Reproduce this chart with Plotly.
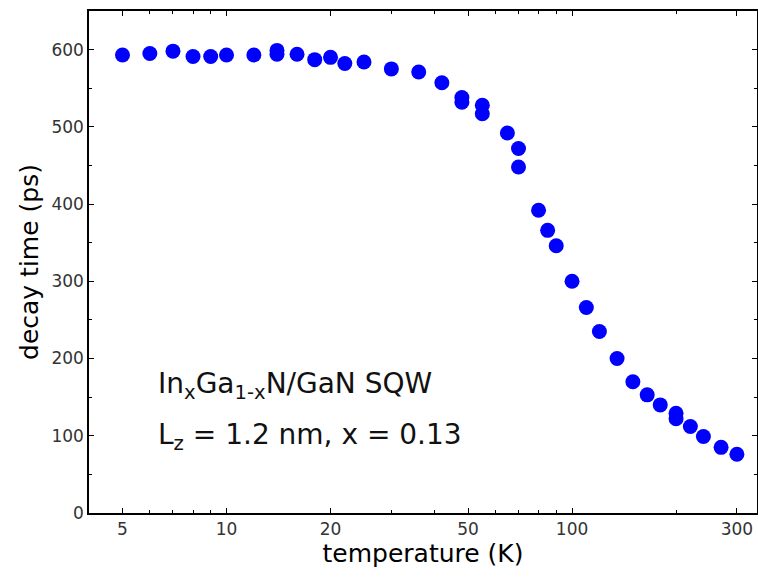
import numpy as np
import plotly.graph_objects as go

temperature_K = [5, 6, 7, 8, 9, 10, 12, 14, 14, 16, 18, 20, 22, 25, 30, 36, 42,
                 48, 48, 55, 55, 65, 70, 70, 80, 85, 90, 100, 110, 120, 135,
                 150, 165, 180, 200, 200, 220, 240, 270, 300]
decay_time_ps = [593, 595, 598, 591, 591, 593, 593, 599, 594, 594, 587, 590, 582,
                 584, 575, 571, 557, 538, 532, 528, 517, 492, 472, 448, 392, 366,
                 346, 300, 266, 235, 200, 170, 153, 140, 129, 122, 112, 99, 85, 76]

x_major_ticks = [5, 10, 20, 50, 100, 300]
x_minor_ticks = [4, 6, 7, 8, 9, 30, 40, 60, 70, 80, 90, 200]
y_major_ticks = [0, 100, 200, 300, 400, 500, 600]

FONT = "DejaVu Sans, Liberation Sans, Arial, sans-serif"

fig = go.Figure()
fig.add_trace(go.Scatter(
    x=temperature_K, y=decay_time_ps, mode="markers",
    marker=dict(color="#0000ff", size=15, line=dict(width=0)),
    showlegend=False, cliponaxis=False,
))

fig.update_layout(
    width=758, height=577,
    margin=dict(l=89, r=1, t=11, b=64),
    paper_bgcolor="white", plot_bgcolor="white",
    font=dict(family=FONT, color="#333333", size=17),
)
fig.update_xaxes(
    type="log", range=[np.log10(4), np.log10(343)], automargin=False,
    tickmode="array", tickvals=x_major_ticks, ticktext=[str(v) for v in x_major_ticks],
    ticks="inside", ticklen=5, tickwidth=1.2, tickcolor="black",
    showline=True, linecolor="black", linewidth=1.5, mirror="allticks",
    showgrid=False, zeroline=False,
    minor=dict(tickmode="array", tickvals=x_minor_ticks, ticks="inside",
               ticklen=3, tickwidth=1, tickcolor="black", showgrid=False),
    title=dict(text="temperature (K)", font=dict(size=25, color="black", family=FONT), standoff=4),
    tickfont=dict(size=17, color="#333333", family=FONT),
)
fig.update_yaxes(
    range=[0, 650], automargin=False,
    tickmode="array", tickvals=y_major_ticks,
    ticks="inside", ticklen=5, tickwidth=1.2, tickcolor="black",
    showline=True, linecolor="black", linewidth=1.5, mirror="allticks",
    showgrid=False, zeroline=False,
    minor=dict(dtick=50, ticks="inside", ticklen=3, tickwidth=1,
               tickcolor="black", showgrid=False),
    title=dict(text="decay time (ps)", font=dict(size=25, color="black", family=FONT), standoff=6),
    tickfont=dict(size=17, color="#333333", family=FONT),
)

fig.add_annotation(
    xref="paper", yref="paper", x=0.100, y=0.253, xanchor="left", yanchor="middle",
    text="In<sub>x</sub>Ga<sub>1-x</sub>N/GaN SQW", showarrow=False,
    font=dict(size=28, color="#111111", family=FONT),
)
fig.add_annotation(
    xref="paper", yref="paper", x=0.100, y=0.153, xanchor="left", yanchor="middle",
    text="L<sub>z</sub> = 1.2 nm, x = 0.13", showarrow=False,
    font=dict(size=28, color="#111111", family=FONT),
)

fig.write_html(
    "out.html",
    config={"displayModeBar": False},
    post_script="document.body.style.margin='0';document.body.style.overflow='hidden';",
)
